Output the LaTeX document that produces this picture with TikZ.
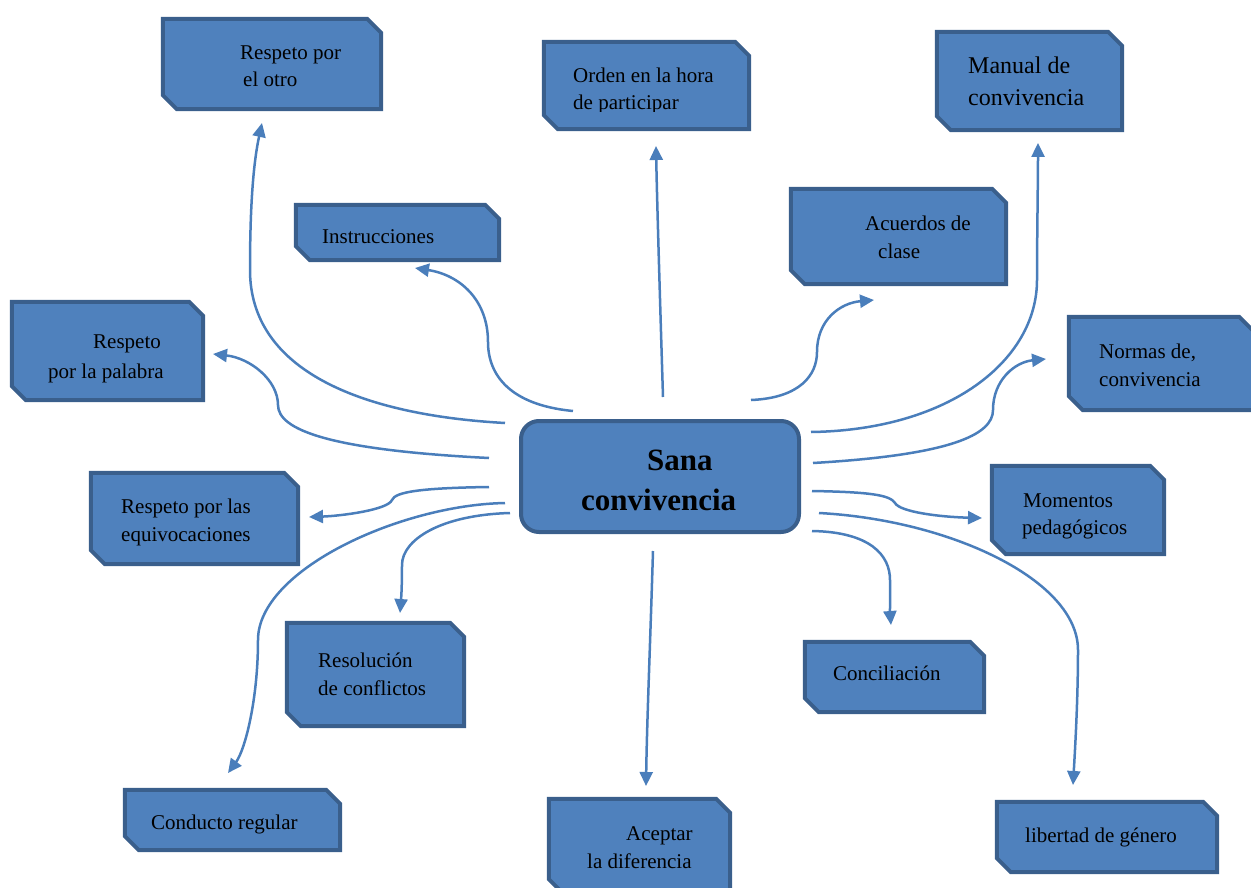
\documentclass[tikz,border=0pt]{standalone}
\usepackage{fontspec}
\setmainfont{Liberation Serif}
\usetikzlibrary{arrows.meta}
\definecolor{boxfill}{HTML}{4F81BD}
\definecolor{boxline}{HTML}{3A5F8C}
\definecolor{conn}{HTML}{4A7EBB}
\tikzset{
  box/.style={rectangle, inner sep=0pt},
  boxpath/.style={fill=boxfill, draw=boxline, line width=4pt, line join=miter},
  centerbox/.style={rectangle, rounded corners=18pt, fill=boxfill, draw=boxline, line width=4pt, inner sep=0pt},
  txt/.style={anchor=base west, inner sep=0pt, font=\fontsize{21}{25}\selectfont, text=black},
  bigtxt/.style={anchor=base west, inner sep=0pt, font=\fontsize{24}{28}\selectfont, text=black},
  ctxt/.style={anchor=base west, inner sep=0pt, font=\fontsize{31}{36}\selectfont\bfseries, text=black},
  link/.style={draw=conn, line width=2.5pt, -{Triangle[length=14pt,width=13pt]}}
}
\newcommand{\snipbox}[1]{%
  \path[boxpath] (#1.north west) -- ([xshift=-14pt]#1.north east) -- ([yshift=-14pt]#1.north east)
    -- (#1.south east) -- ([xshift=14pt]#1.south west) -- ([yshift=14pt]#1.south west) -- cycle;}
\begin{document}
\begin{tikzpicture}[x=1pt,y=-1pt]
\useasboundingbox (0,0) rectangle (1251,888);
% boxes
\node[box, minimum width=218pt, minimum height=90pt] (b1) at (272,64) {};
\node[box, minimum width=205pt, minimum height=87pt] (b2) at (646.5,85.5) {};
\node[box, minimum width=185pt, minimum height=98pt] (b3) at (1029.5,81) {};
\node[box, minimum width=203pt, minimum height=55pt] (b4) at (397.5,232.5) {};
\node[box, minimum width=215pt, minimum height=95pt] (b5) at (898.5,236.5) {};
\node[box, minimum width=191pt, minimum height=98pt] (b6) at (107.5,351) {};
\node[box, minimum width=184pt, minimum height=93pt] (b7) at (1161,363.5) {};
\node[centerbox, minimum width=278pt, minimum height=111pt] (b8) at (660,476.5) {};
\node[box, minimum width=207pt, minimum height=91pt] (b9) at (194.5,518.5) {};
\node[box, minimum width=172pt, minimum height=88pt] (b10) at (1078,510) {};
\node[box, minimum width=177pt, minimum height=103pt] (b11) at (375.5,674.5) {};
\node[box, minimum width=179pt, minimum height=70pt] (b12) at (894.5,677) {};
\node[box, minimum width=215pt, minimum height=60pt] (b13) at (232.5,820) {};
\node[box, minimum width=181pt, minimum height=94pt] (b14) at (639.5,846) {};
\node[box, minimum width=220pt, minimum height=70pt] (b15) at (1107,837) {};
\snipbox{b1}\snipbox{b2}\snipbox{b3}\snipbox{b4}\snipbox{b5}\snipbox{b6}\snipbox{b7}
\snipbox{b9}\snipbox{b10}\snipbox{b11}\snipbox{b12}\snipbox{b13}\snipbox{b14}\snipbox{b15}
% texts
\node[txt] (t1a) at (240,60) {Respeto por};
\node[txt] (t1b) at (243,87) {el otro};
\node[txt] (t2a) at (573,83) {Orden en la hora};
\begin{scope}
\clip (540,90) rectangle (760,112);
\node[txt] (t2b) at (573,110) {de participar};
\end{scope}
\node[bigtxt] (t3a) at (968,74) {Manual de};
\node[bigtxt] (t3b) at (968,106) {convivencia};
\node[txt] (t4) at (322,243) {Instrucciones};
\node[txt] (t5a) at (865,230) {Acuerdos de};
\node[txt] (t5b) at (878,258) {clase};
\node[txt] (t6a) at (93,348) {Respeto};
\node[txt] (t6b) at (48,378) {por la palabra};
\node[txt] (t7a) at (1099,358) {Normas de,};
\node[txt] (t7b) at (1099,386) {convivencia};
\node[ctxt] (t8a) at (647,470) {Sana};
\node[ctxt] (t8b) at (581,510) {convivencia};
\node[txt] (t9a) at (121,513) {Respeto por las};
\node[txt] (t9b) at (121,541) {equivocaciones};
\node[txt] (t10a) at (1023,507) {Momentos};
\node[txt] (t10b) at (1022,534) {pedagógicos};
\node[txt] (t11a) at (318,667) {Resolución};
\node[txt] (t11b) at (318,695) {de conflictos};
\node[txt] (t12) at (833,680) {Conciliación};
\node[txt] (t13) at (151,829) {Conducto regular};
\node[txt] (t14a) at (626,840) {Aceptar};
\node[txt] (t14b) at (587,868) {la diferencia};
\node[txt] (t15) at (1025,842) {libertad de género};
% connector end points
\coordinate (sa) at (505,423); \coordinate (ea) at (262,123);
\coordinate (sb) at (573,411); \coordinate (eb) at (415,268);
\coordinate (sc) at (663,397); \coordinate (ec) at (656,146);
\coordinate (sd) at (751,400); \coordinate (ed) at (874,300);
\coordinate (se) at (811,432); \coordinate (ee) at (1038,143);
\coordinate (sf) at (813,463); \coordinate (ef) at (1046,359);
\coordinate (sg) at (489,458); \coordinate (eg) at (213,354);
\coordinate (sh) at (489,487); \coordinate (eh) at (309,517);
\coordinate (si) at (505,503); \coordinate (ei) at (228,773);
\coordinate (sj) at (510,513); \coordinate (ej) at (400,613);
\coordinate (sk) at (653,551); \coordinate (ek) at (646,786);
\coordinate (sl) at (812,491); \coordinate (el) at (982,518);
\coordinate (sm) at (812,531); \coordinate (em) at (891,625);
\coordinate (sn) at (819,513); \coordinate (en) at (1073,785);
% connectors
\draw[link] (sa) .. controls (360,415) and (250,370) .. (250,270) .. controls (250,200) and (254,160) .. (ea);
\draw[link] (sb) .. controls (510,405) and (488,375) .. (488,342) .. controls (488,300) and (460,275) .. (eb);
\draw[link] (sc) .. controls (660,300) and (657,200) .. (ec);
\draw[link] (sd) .. controls (800,398) and (817,375) .. (817,352) .. controls (817,320) and (840,303) .. (ed);
\draw[link] (se) .. controls (950,430) and (1037,360) .. (1037,280) .. controls (1037,240) and (1038,180) .. (ee);
\draw[link] (sf) .. controls (950,455) and (993,435) .. (993,410) .. controls (993,380) and (1015,362) .. (ef);
\draw[link] (sg) .. controls (330,450) and (278,430) .. (278,405) .. controls (278,380) and (250,358) .. (eg);
\draw[link] (sh) .. controls (420,488) and (395,492) .. (392,500) .. controls (388,510) and (340,516) .. (eh);
\draw[link] (si) .. controls (400,505) and (258,570) .. (258,640) .. controls (258,700) and (245,750) .. (ei);
\draw[link] (sj) .. controls (440,515) and (402,540) .. (402,565) .. controls (402,590) and (401,600) .. (ej);
\draw[link] (sk) .. controls (650,650) and (647,720) .. (ek);
\draw[link] (sl) .. controls (870,492) and (890,495) .. (895,503) .. controls (900,512) and (940,517) .. (el);
\draw[link] (sm) .. controls (870,532) and (890,555) .. (890,580) .. controls (890,600) and (890,612) .. (em);
\draw[link] (sn) .. controls (950,520) and (1078,580) .. (1078,650) .. controls (1078,700) and (1075,750) .. (en);
\end{tikzpicture}
\end{document}
